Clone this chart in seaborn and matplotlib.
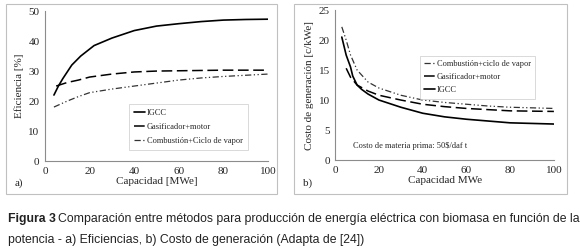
import numpy as np
import pandas as pd
import seaborn as sns
import matplotlib.pyplot as plt
from matplotlib.patches import Rectangle

# a) efficiency vs capacity
igcc_x = [4, 6, 8, 12, 16, 22, 30, 40, 50, 60, 70, 80, 90, 100]
igcc_ef = [22, 25, 27.5, 32, 35, 38.5, 41, 43.5, 45, 45.8, 46.5, 47, 47.2, 47.3]
gas_x = [5, 10, 15, 20, 25, 30, 40, 50, 60, 80, 100]
gas_ef = [25, 26.2, 27, 28, 28.5, 29, 29.7, 30, 30.1, 30.3, 30.3]
comb_x = [4, 10, 15, 20, 30, 40, 50, 60, 70, 80, 90, 100]
comb_ef = [18, 20, 21.5, 22.8, 24, 25, 26, 27, 27.7, 28.2, 28.6, 29]

# b) generation cost vs capacity
comb_cx = [3, 5, 7, 10, 15, 20, 30, 40, 50, 60, 70, 80, 90, 100]
comb_cost = [22.2, 20, 17.5, 15, 13, 12, 10.8, 10, 9.6, 9.3, 9.0, 8.8, 8.7, 8.6]
gas_cx = [5, 7, 10, 15, 20, 30, 40, 50, 60, 70, 80, 100]
gas_cost = [15.3, 13.8, 12.5, 11.5, 10.8, 10, 9.3, 8.9, 8.6, 8.4, 8.2, 8.1]
igcc_cx = [3, 5, 7, 8, 10, 12, 15, 20, 30, 40, 50, 60, 70, 80, 90, 100]
igcc_cost = [20.5, 17.5, 15.5, 14, 12.5, 11.8, 11, 10, 8.8, 7.8, 7.2, 6.8, 6.5, 6.2, 6.1, 6.0]

sns.set_style("white")
plt.rcParams['font.family'] = ['Liberation Serif', 'DejaVu Serif']

fig = plt.figure(figsize=(5.8, 2.52), dpi=100)
ax1 = fig.add_axes([0.0776, 0.361, 0.3845, 0.595])
ax2 = fig.add_axes([0.578, 0.365, 0.377, 0.595])

dash_dot_dot = (0, (5, 2, 1, 2, 1, 2))
gray_axis = '#8c8c8c'

sns.lineplot(x=igcc_x, y=igcc_ef, ax=ax1, color='black', lw=1.2, label='IGCC')
sns.lineplot(x=gas_x, y=gas_ef, ax=ax1, color='black', lw=1.1,
             linestyle=(0, (7, 3)), label='Gasificador+motor')
sns.lineplot(x=comb_x, y=comb_ef, ax=ax1, color='#333333', lw=0.9,
             linestyle=dash_dot_dot, label='Combustión+Ciclo de vapor')

sns.lineplot(x=comb_cx, y=comb_cost, ax=ax2, color='#333333', lw=0.9,
             linestyle=dash_dot_dot, label='Combustión+ciclo de vapor')
sns.lineplot(x=gas_cx, y=gas_cost, ax=ax2, color='black', lw=1.1,
             linestyle=(0, (7, 3)), label='Gasificador+motor')
sns.lineplot(x=igcc_cx, y=igcc_cost, ax=ax2, color='black', lw=1.2, label='IGCC')

for ax, ymax, ystep in [(ax1, 50, 10), (ax2, 25, 5)]:
    ax.set_xlim(0, 100)
    ax.set_ylim(0, ymax)
    ax.set_xticks(range(0, 101, 20))
    ax.set_yticks(range(0, ymax + 1, ystep))
    ax.tick_params(labelsize=8, length=2, width=0.6, color=gray_axis, pad=2)
    for s in ['top', 'right']:
        ax.spines[s].set_visible(False)
    for s in ['left', 'bottom']:
        ax.spines[s].set_color(gray_axis)
        ax.spines[s].set_linewidth(0.8)

ax1.set_xlabel('Capacidad [MWe]', fontsize=8, labelpad=1)
ax1.set_ylabel('Eficiencia [%]', fontsize=8, labelpad=3)
ax2.set_xlabel('Capacidad MWe', fontsize=8, labelpad=1)
ax2.set_ylabel('Costo de generación [c/kWe]', fontsize=8, labelpad=3)

leg1 = ax1.legend(loc='upper left', bbox_to_anchor=(0.36, 0.41), fontsize=6,
                  handlelength=1.3, handletextpad=0.2, labelspacing=0.75,
                  frameon=True, fancybox=False, borderpad=0.6)
leg2 = ax2.legend(loc='upper left', bbox_to_anchor=(0.37, 0.72), fontsize=6,
                  handlelength=1.3, handletextpad=0.2, labelspacing=0.6,
                  frameon=True, fancybox=False, borderpad=0.5)
for leg in (leg1, leg2):
    leg.get_frame().set_edgecolor('#c8c8c8')
    leg.get_frame().set_linewidth(0.6)

ax2.text(8, 2.3, 'Costo de materia prima: 50$/daf t', fontsize=6, va='center')

fig.text(15 / 580, 1 - 183 / 252, 'a)', fontsize=8, va='center')
fig.text(303 / 580, 1 - 183 / 252, 'b)', fontsize=8, va='center')

# panel borders
for x0, x1 in [(6, 277), (294, 567)]:
    fig.add_artist(Rectangle((x0 / 580, 1 - 194 / 252), (x1 - x0) / 580, 190 / 252,
                             transform=fig.transFigure, fill=False,
                             edgecolor='#c0c0c0', lw=0.8))

cap_font = ['Liberation Sans', 'DejaVu Sans']
fig.text(8 / 580, 1 - 219 / 252, 'Figura 3', fontsize=8.8, fontweight='bold',
         va='center', family=cap_font, color='#222222')
fig.text(58 / 580, 1 - 219 / 252,
         'Comparación entre métodos para producción de energía eléctrica con biomasa en función de la',
         fontsize=8.85, va='center', family=cap_font, color='#222222')
fig.text(8 / 580, 1 - 240 / 252,
         'potencia - a) Eficiencias, b) Costo de generación (Adapta de [24])',
         fontsize=8.85, va='center', family=cap_font, color='#222222')

fig.savefig('out.png', dpi=100)
